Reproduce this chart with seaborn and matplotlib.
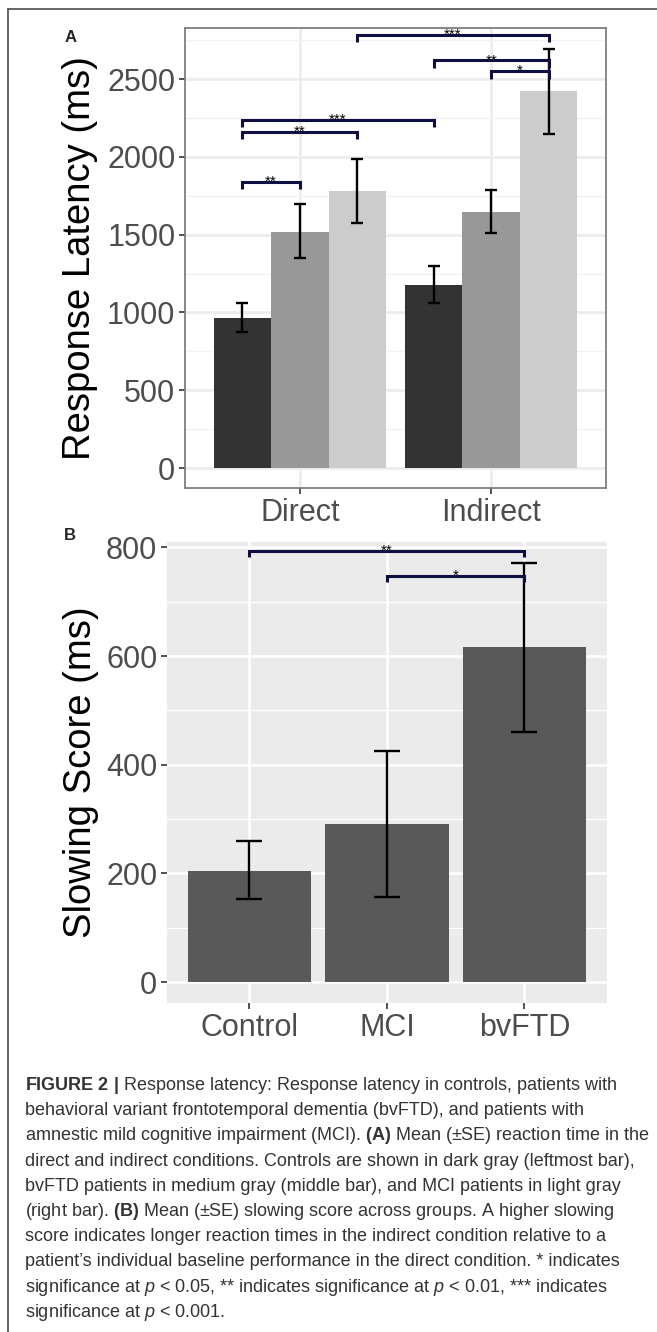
import matplotlib
matplotlib.use("Agg")
import matplotlib.pyplot as plt
import seaborn as sns
import pandas as pd
import numpy as np
from matplotlib.lines import Line2D

# ======================================================
# DATA
# ======================================================

conditions = ["Direct", "Indirect"]
groups = ["Control", "bvFTD", "MCI"]

latency_direct = [965, 1517, 1778]
latency_indirect = [1177, 1645, 2420]
latency_lo_direct = [872, 1347, 1572]
latency_hi_direct = [1060, 1694, 1985]
latency_lo_indirect = [1064, 1513, 2149]
latency_hi_indirect = [1299, 1784, 2694]

slow_groups = ["Control", "MCI", "bvFTD"]
slowing = [205, 291, 616]
slowing_lo = [152, 157, 461]
slowing_hi = [259, 425, 771]

# significance brackets: (left bar, right bar, height, label)
brackets_a = [
    (("Direct", "Control"), ("Direct", "bvFTD"), 1840, "**"),
    (("Direct", "Control"), ("Direct", "MCI"), 2162, "**"),
    (("Direct", "Control"), ("Indirect", "Control"), 2239, "***"),
    (("Direct", "MCI"), ("Indirect", "MCI"), 2783, "***"),
    (("Indirect", "Control"), ("Indirect", "MCI"), 2621, "**"),
    (("Indirect", "bvFTD"), ("Indirect", "MCI"), 2551, "*"),
]
brackets_b = [
    ("Control", "bvFTD", 794, "**"),
    ("MCI", "bvFTD", 748, "*"),
]

caption_lines = [
    r"$\mathbf{FIGURE\ 2\ |}$ Response latency: Response latency in controls, patients with",
    "behavioral variant frontotemporal dementia (bvFTD), and patients with",
    r"amnestic mild cognitive impairment (MCI). $\mathbf{(A)}$ Mean (±SE) reaction time in the",
    "direct and indirect conditions. Controls are shown in dark gray (leftmost bar),",
    "bvFTD patients in medium gray (middle bar), and MCI patients in light gray",
    r"(right bar). $\mathbf{(B)}$ Mean (±SE) slowing score across groups. A higher slowing",
    "score indicates longer reaction times in the indirect condition relative to a",
    "patient’s individual baseline performance in the direct condition. * indicates",
    r"significance at $\mathit{p}$ < 0.05, ** indicates significance at $\mathit{p}$ < 0.01, *** indicates",
    r"significance at $\mathit{p}$ < 0.001.",
]

# ======================================================
# STYLE
# ======================================================

FILLS_A = ["#333333", "#989898", "#CCCCCC"]
FILL_B = "#595959"
BRACKET = "#0e0e42"
TICK_TXT = "#4D4D4D"

sns.set_theme(style="white")
plt.rcParams["font.family"] = ["Liberation Sans", "DejaVu Sans"]
plt.rcParams["mathtext.fontset"] = "custom"
plt.rcParams["mathtext.rm"] = "Liberation Sans"
plt.rcParams["mathtext.bf"] = "Liberation Sans:bold"
plt.rcParams["mathtext.it"] = "Liberation Sans:italic"

W, H = 657, 1332
fig = plt.figure(figsize=(W / 100, H / 100), dpi=100)
fig.patch.set_facecolor("white")


def box(l, t, r, b):
    return [l / W, 1 - b / H, (r - l) / W, (b - t) / H]


ax_a = fig.add_axes(box(185, 28, 606, 488))
ax_b = fig.add_axes(box(167, 542, 607, 1003))

# ======================================================
# PANEL A
# ======================================================

df_a = pd.DataFrame({
    "condition": np.repeat(conditions, len(groups)),
    "group": groups * len(conditions),
    "latency": latency_direct + latency_indirect,
    "lo": latency_lo_direct + latency_lo_indirect,
    "hi": latency_hi_direct + latency_hi_indirect,
})

sns.barplot(
    data=df_a, x="condition", y="latency", hue="group",
    order=conditions, hue_order=groups, palette=FILLS_A,
    width=0.9, saturation=1, errorbar=None, linewidth=0,
    legend=False, ax=ax_a, zorder=2
)

centers_a = sorted(p.get_x() + p.get_width() / 2 for p in ax_a.patches)
df_a["x"] = centers_a
pos_a = {(c, g): x for c, g, x in zip(df_a["condition"], df_a["group"], df_a["x"])}

ax_a.errorbar(
    df_a["x"], df_a["latency"],
    yerr=[df_a["latency"] - df_a["lo"], df_a["hi"] - df_a["latency"]],
    fmt="none", ecolor="black", elinewidth=1.7, capsize=4, capthick=1.7, zorder=3
)

for left, right, h, lab in brackets_a:
    x1, x2 = pos_a[left], pos_a[right]
    ax_a.plot([x1, x1, x2, x2], [h - 48, h, h, h - 48], color=BRACKET,
              lw=2.2, solid_joinstyle="miter", solid_capstyle="butt", zorder=4)
    ax_a.annotate(lab, xy=((x1 + x2) / 2, h), xytext=(0, -3),
                  textcoords="offset points", ha="center", va="baseline",
                  fontsize=11, color="black", zorder=5)

ax_a.set_xlim(-0.6, 1.6)
ax_a.set_ylim(-128, 2828)
ax_a.set_yticks([0, 500, 1000, 1500, 2000, 2500])
ax_a.set_yticks([250, 750, 1250, 1750, 2250, 2750], minor=True)
ax_a.set_axisbelow(True)
ax_a.grid(which="major", color="#EBEBEB", lw=1.8)
ax_a.grid(which="minor", axis="y", color="#F2F2F2", lw=1.0)
for s in ax_a.spines.values():
    s.set_visible(True)
    s.set_color("#7F7F7F")
    s.set_linewidth(1.3)
ax_a.set_xlabel("")
ax_a.set_ylabel("Response Latency (ms)", fontsize=27.5, color="black")
ax_a.yaxis.set_label_coords(-0.207, 0.5)

# ======================================================
# PANEL B
# ======================================================

df_b = pd.DataFrame({"group": slow_groups, "slowing": slowing,
                     "lo": slowing_lo, "hi": slowing_hi})

sns.barplot(
    data=df_b, x="group", y="slowing", order=slow_groups,
    color=FILL_B, width=0.9, saturation=1, errorbar=None,
    linewidth=0, ax=ax_b, zorder=2
)

df_b["x"] = sorted(p.get_x() + p.get_width() / 2 for p in ax_b.patches)
pos_b = dict(zip(df_b["group"], df_b["x"]))

ax_b.errorbar(
    df_b["x"], df_b["slowing"],
    yerr=[df_b["slowing"] - df_b["lo"], df_b["hi"] - df_b["slowing"]],
    fmt="none", ecolor="black", elinewidth=1.7, capsize=9.4, capthick=1.7, zorder=3
)

for left, right, h, lab in brackets_b:
    x1, x2 = pos_b[left], pos_b[right]
    ax_b.plot([x1, x1, x2, x2], [h - 11, h, h, h - 11], color=BRACKET,
              lw=2.2, solid_joinstyle="miter", solid_capstyle="butt", zorder=4)
    ax_b.annotate(lab, xy=((x1 + x2) / 2, h), xytext=(0, -3),
                  textcoords="offset points", ha="center", va="baseline",
                  fontsize=11, color="black", zorder=5)

ax_b.set_xlim(-0.6, 2.6)
ax_b.set_ylim(-38.6, 810)
ax_b.set_yticks([0, 200, 400, 600, 800])
ax_b.set_yticks([100, 300, 500, 700], minor=True)
ax_b.set_facecolor("#EBEBEB")
ax_b.set_axisbelow(True)
ax_b.grid(which="major", color="white", lw=1.8)
ax_b.grid(which="minor", axis="y", color="white", lw=0.9)
for s in ax_b.spines.values():
    s.set_visible(False)
ax_b.set_xlabel("")
ax_b.set_ylabel("Slowing Score (ms)", fontsize=27.5, color="black")
ax_b.yaxis.set_label_coords(-0.155, 0.5)

for ax in (ax_a, ax_b):
    ax.tick_params(which="major", direction="out", length=4, width=1.2,
                   color="#333333", labelsize=22, labelcolor=TICK_TXT, pad=3,
                   left=True, bottom=True)
    ax.tick_params(which="minor", length=0)

# ======================================================
# LABELS, FRAME, CAPTION
# ======================================================

fig.text(71 / W, 1 - 37 / H, "A", fontsize=12, fontweight="bold",
         ha="center", va="center")
fig.text(70 / W, 1 - 535 / H, "B", fontsize=12, fontweight="bold",
         ha="center", va="center")

fig.add_artist(Line2D([8 / W, 1], [1 - 9 / H, 1 - 9 / H],
                      transform=fig.transFigure, color="#4d4d4d", lw=1.2))
fig.add_artist(Line2D([8 / W, 8 / W], [0, 1 - 9 / H],
                      transform=fig.transFigure, color="#4d4d4d", lw=1.2))

for i, line in enumerate(caption_lines):
    y = 1085 + 25.2 * i + 5
    fig.text(25 / W, 1 - y / H, line, fontsize=13, color="#333333",
             ha="left", va="baseline")

fig.savefig("out.png", dpi=100)
